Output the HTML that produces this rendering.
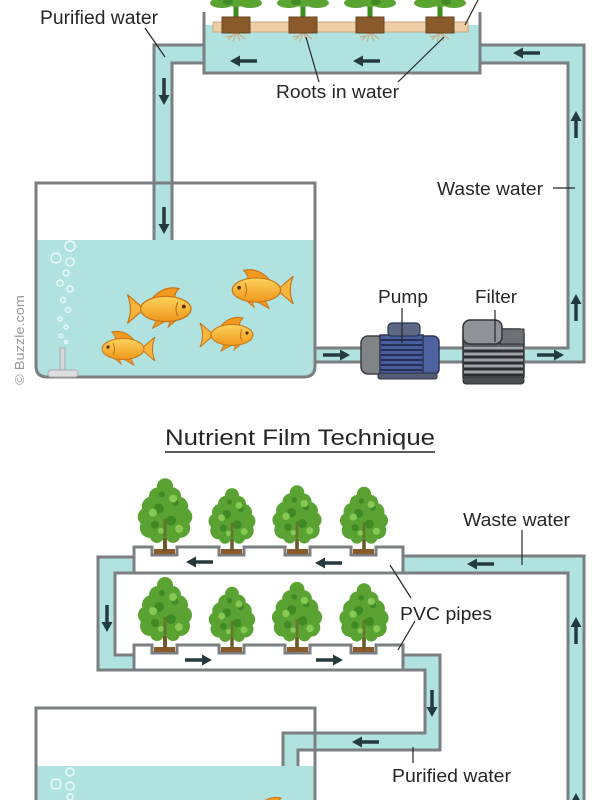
<!DOCTYPE html>
<html>
<head>
<meta charset="utf-8">
<style>
html,body{margin:0;padding:0;background:#fff;}
svg{display:block;}
text{font-family:"Liberation Sans",Arial,sans-serif;fill:#262626;}
</style>
</head>
<body>
<svg width="600" height="800" viewBox="0 0 600 800" xmlns="http://www.w3.org/2000/svg">
<defs>
  <g id="ar"><path d="M0,0H19" stroke="#253a3c" stroke-width="3.5"/><polygon points="27,0 17,-5.5 17,5.5" fill="#253a3c"/></g>
  <linearGradient id="fg" x1="0" y1="0" x2="0" y2="1">
    <stop offset="0" stop-color="#fcd45c"/>
    <stop offset="1" stop-color="#f0961c"/>
  </linearGradient>
  <g id="fish">
    <path d="M-14,0 L-28,-12 Q-23,0 -28,12 Z" fill="#f7b43c" stroke="#c87417" stroke-width="1"/>
    <path d="M-8,-8 Q2,-20 15,-17 Q10,-12 12,-7 Z" fill="#f39a1e" stroke="#c87417" stroke-width="1"/>
    <path d="M-3,8 L-7,16 L4,10 Z" fill="#f39a1e" stroke="#c87417" stroke-width="0.8"/>
    <path d="M8,9 L6,15 L13,9 Z" fill="#f39a1e" stroke="#c87417" stroke-width="0.8"/>
    <ellipse cx="4" cy="0" rx="21" ry="10.5" fill="url(#fg)" stroke="#c87417" stroke-width="1"/>
    <path d="M14,-6 Q11,0 14,6" stroke="#c87417" fill="none" stroke-width="1"/>
    <circle cx="19" cy="-2" r="1.6" fill="#5a2a00"/>
  </g>
  <g id="plant">
    <rect x="-2" y="-18" width="4" height="20" fill="#6b5a2a"/>
    <g fill="#5aa332">
      <circle cx="0" cy="-62" r="8"/>
      <circle cx="-7" cy="-52" r="9"/><circle cx="7" cy="-52" r="9"/>
      <circle cx="-13" cy="-42" r="10"/><circle cx="0" cy="-44" r="11"/><circle cx="13" cy="-42" r="10"/>
      <circle cx="-18" cy="-32" r="9"/><circle cx="18" cy="-32" r="9"/><circle cx="0" cy="-32" r="12"/>
      <circle cx="-9" cy="-34" r="10"/><circle cx="9" cy="-34" r="10"/>
      <circle cx="-15" cy="-21" r="10"/><circle cx="15" cy="-21" r="10"/><circle cx="0" cy="-22" r="11"/>
      <circle cx="-8" cy="-13" r="7"/><circle cx="8" cy="-13" r="7"/>
    </g>
    <g fill="#3f8a24">
      <circle cx="-6" cy="-40" r="5"/><circle cx="6" cy="-28" r="5"/><circle cx="-10" cy="-24" r="4"/>
      <circle cx="10" cy="-46" r="3.5"/><circle cx="-3" cy="-54" r="3"/>
    </g>
    <g fill="#86c955">
      <circle cx="8" cy="-50" r="4"/><circle cx="-12" cy="-36" r="4"/><circle cx="14" cy="-20" r="4"/><circle cx="-4" cy="-18" r="3"/>
    </g>
    <rect x="-1.5" y="-30" width="3" height="18" fill="#6b5a2a" opacity="0.6"/>
  </g>
</defs>

<!-- ============ TOP: DEEP WATER ============ -->
<!-- top plants (clipped) -->
<g>
  <g fill="#3f8d1e">
    <rect x="233.5" y="3" width="5" height="15"/>
    <rect x="300.5" y="3" width="5" height="15"/>
    <rect x="367.5" y="3" width="5" height="15"/>
    <rect x="437.5" y="3" width="5" height="15"/>
  </g>
  <g fill="#5aa532">
    <ellipse cx="222" cy="3" rx="12" ry="5"/><ellipse cx="250" cy="3" rx="12" ry="5"/><ellipse cx="236" cy="1" rx="10" ry="6"/>
    <ellipse cx="289" cy="3" rx="12" ry="5"/><ellipse cx="317" cy="3" rx="12" ry="5"/><ellipse cx="303" cy="1" rx="10" ry="6"/>
    <ellipse cx="356" cy="3" rx="12" ry="5"/><ellipse cx="384" cy="3" rx="12" ry="5"/><ellipse cx="370" cy="1" rx="10" ry="6"/>
    <ellipse cx="426" cy="3" rx="12" ry="5"/><ellipse cx="454" cy="3" rx="12" ry="5"/><ellipse cx="440" cy="1" rx="10" ry="6"/>
  </g>
  <g fill="#3f8a24">
    <ellipse cx="228" cy="2" rx="5" ry="3"/><ellipse cx="296" cy="2" rx="5" ry="3"/><ellipse cx="376" cy="2" rx="5" ry="3"/><ellipse cx="446" cy="2" rx="5" ry="3"/>
  </g>
</g>

<!-- bed water -->
<rect x="204" y="25" width="276" height="48" fill="#b0e2df"/>
<!-- left top pipe -->
<polygon points="204,45 154,45 154,240 172,240 172,63 204,63" fill="#b0e2df"/>
<path d="M204,45H154V240" fill="none" stroke="#7b7f82" stroke-width="3"/>
<path d="M204,63H172V240" fill="none" stroke="#7b7f82" stroke-width="3"/>
<!-- right top pipe -->
<polygon points="480,45 584,45 584,362 525,362 525,348 568,348 568,63 480,63" fill="#b0e2df"/>
<path d="M480,45H584V362H525" fill="none" stroke="#7b7f82" stroke-width="3"/>
<path d="M480,63H568V348H525" fill="none" stroke="#7b7f82" stroke-width="3"/>
<!-- pipe tank to pump, pump to filter -->
<rect x="315" y="348" width="48" height="14" fill="#b0e2df"/>
<path d="M315,348H363M315,362H363" stroke="#7b7f82" stroke-width="3"/>
<rect x="438" y="348" width="27" height="14" fill="#b0e2df"/>
<path d="M438,348H465M438,362H465" stroke="#7b7f82" stroke-width="3"/>

<!-- raft, pots, roots -->
<rect x="213" y="22" width="255" height="10" fill="#efcfa5" stroke="#c9a77f" stroke-width="1"/>
<g stroke="#c9ad86" stroke-width="1.2" fill="none">
  <path d="M236,32 L228,40 M236,32 L233,42 M236,32 L240,41 M236,32 L245,39 M232,36 L226,37"/>
  <path d="M303,32 L295,40 M303,32 L300,42 M303,32 L307,41 M303,32 L312,39 M299,36 L293,37"/>
  <path d="M370,32 L362,40 M370,32 L367,42 M370,32 L374,41 M370,32 L379,39 M366,36 L360,37"/>
  <path d="M440,32 L432,40 M440,32 L437,42 M440,32 L444,41 M440,32 L449,39 M436,36 L430,37"/>
</g>
<g fill="#8b5a2b" stroke="#6b4420" stroke-width="1">
  <rect x="222" y="17" width="28" height="16"/>
  <rect x="289" y="17" width="28" height="16"/>
  <rect x="356" y="17" width="28" height="16"/>
  <rect x="426" y="17" width="28" height="16"/>
</g>
<!-- bed walls -->
<path d="M204,12V73H480V12" fill="none" stroke="#7b7f82" stroke-width="3"/>

<!-- fish tank -->
<path d="M36,240V366Q36,377 47,377H304Q315,377 315,366V240Z" fill="#b0e2df"/>
<path d="M36,183V366Q36,377 47,377H304Q315,377 315,366V183Z" fill="none" stroke="#7b7f82" stroke-width="3"/>
<!-- bubbles -->
<g fill="none" stroke="#eefaf9" stroke-width="1.4">
  <circle cx="70" cy="246" r="5"/><circle cx="56" cy="258" r="5"/><circle cx="70" cy="262" r="4"/>
  <circle cx="66" cy="273" r="3"/><circle cx="60" cy="283" r="3"/><circle cx="70" cy="289" r="3"/>
  <circle cx="63" cy="300" r="2.5"/><circle cx="68" cy="310" r="2.5"/><circle cx="60" cy="319" r="2"/>
  <circle cx="66" cy="327" r="2"/><circle cx="61" cy="336" r="1.8"/><circle cx="66" cy="342" r="1.5"/>
</g>
<rect x="60" y="348" width="5" height="24" fill="#d4d6d8" stroke="#a9acaf" stroke-width="1"/>
<rect x="48" y="370" width="30" height="7" rx="3" fill="#dcdee0" stroke="#a9acaf" stroke-width="1"/>
<!-- fish -->
<use href="#fish" transform="translate(161,309) scale(1.2)"/>
<use href="#fish" transform="translate(261,290) scale(-1.15,1.15)"/>
<use href="#fish" transform="translate(228,335)"/>
<use href="#fish" transform="translate(127,349) scale(-1,1)"/>

<!-- pump -->
<rect x="361" y="336" width="24" height="38" rx="7" fill="#808387" stroke="#3d3f44" stroke-width="1.5"/>
<rect x="418" y="336" width="21" height="39" rx="6" fill="#4f62a0" stroke="#2c3555" stroke-width="1.5"/>
<rect x="380" y="335" width="43" height="41" fill="#4a5d9c" stroke="#2c3555" stroke-width="1.5"/>
<g stroke="#1f2a4d" stroke-width="1.8">
  <path d="M381,340H422M381,345H422M381,350H422M381,355H422M381,360H422M381,365H422M381,370H422"/>
</g>
<rect x="388" y="323" width="32" height="13" rx="4" fill="#5d6886" stroke="#2c3555" stroke-width="1.2"/>
<rect x="378" y="373" width="59" height="6" rx="2" fill="#555c74" stroke="#2c3040" stroke-width="1"/>
<!-- filter -->
<rect x="463" y="329" width="61" height="52" rx="5" fill="#5a5d61" stroke="#2f3134" stroke-width="1.5"/>
<g stroke="#a0a3a7" stroke-width="2.2">
  <path d="M464,348H523M464,354H523M464,360H523M464,366H523M464,372H523"/>
</g>
<g stroke="#26282a" stroke-width="1.8">
  <path d="M464,351H523M464,357H523M464,363H523M464,369H523M464,375H523"/>
</g>
<rect x="500" y="329" width="24" height="15" fill="#6d7074" stroke="#2f3134" stroke-width="1"/>
<rect x="463" y="320" width="39" height="24" rx="7" fill="#8f9296" stroke="#333" stroke-width="1.5"/>
<rect x="463" y="377" width="61" height="7" rx="3" fill="#4a4c50" stroke="#2f3134" stroke-width="1"/>

<!-- top arrows -->
<use href="#ar" transform="translate(257,61) rotate(180)"/>
<use href="#ar" transform="translate(380,61) rotate(180)"/>
<use href="#ar" transform="translate(540,53) rotate(180)"/>
<use href="#ar" transform="translate(164,78) rotate(90)"/>
<use href="#ar" transform="translate(164,207) rotate(90)"/>
<use href="#ar" transform="translate(576,138) rotate(-90)"/>
<use href="#ar" transform="translate(576,321) rotate(-90)"/>
<use href="#ar" transform="translate(323,355)"/>
<use href="#ar" transform="translate(537,355)"/>

<!-- top labels & leader lines -->
<g stroke="#262626" stroke-width="1.2" fill="none">
  <path d="M145,28L165,57"/>
  <path d="M319,82L306,37"/>
  <path d="M398,82L444,37"/>
  <path d="M465,25L478,0"/>
  <path d="M553,188H575"/>
  <path d="M402,308V343"/>
  <path d="M495,310V342"/>
</g>
<text x="40" y="24" font-size="19" textLength="118" lengthAdjust="spacingAndGlyphs">Purified water</text>
<text x="276" y="98" font-size="18" textLength="123" lengthAdjust="spacingAndGlyphs">Roots in water</text>
<text x="437" y="195" font-size="18" textLength="106" lengthAdjust="spacingAndGlyphs">Waste water</text>
<text x="378" y="303" font-size="18" textLength="50" lengthAdjust="spacingAndGlyphs">Pump</text>
<text x="475" y="303" font-size="18" textLength="42" lengthAdjust="spacingAndGlyphs">Filter</text>
<text transform="translate(24,385) rotate(-90)" font-size="13" textLength="90" lengthAdjust="spacingAndGlyphs" style="fill:#9a9a9a">© Buzzle.com</text>

<!-- ============ BOTTOM: NFT ============ -->
<text x="165" y="445" font-size="22" textLength="270" lengthAdjust="spacingAndGlyphs">Nutrient Film Technique</text>
<path d="M165,452H435" stroke="#262626" stroke-width="1.5"/>

<!-- blue pipes -->
<polygon points="403,556 584,556 584,800 568,800 568,573 403,573" fill="#b0e2df"/>
<path d="M403,556H584V800" fill="none" stroke="#7b7f82" stroke-width="3"/>
<path d="M403,573H568V800" fill="none" stroke="#7b7f82" stroke-width="3"/>

<polygon points="134,557 98,557 98,670 134,670 134,655 115,655 115,573 134,573" fill="#b0e2df"/>
<path d="M134,557H98V670H134" fill="none" stroke="#7b7f82" stroke-width="3"/>
<path d="M134,573H115V655H134" fill="none" stroke="#7b7f82" stroke-width="3"/>

<polygon points="403,655 440,655 440,750 298,750 298,766 283,766 283,733 425,733 425,670 403,670" fill="#b0e2df"/>
<path d="M403,655H440V750H298V766" fill="none" stroke="#7b7f82" stroke-width="3"/>
<path d="M403,670H425V733H283V766" fill="none" stroke="#7b7f82" stroke-width="3"/>

<!-- PVC pipes -->
<path d="M134,573V547H152V555H177V547H219V555H244V547H285V555H310V547H351V555H376V547H403V573Z" fill="#ffffff" stroke="#7b7f82" stroke-width="3"/>
<g fill="#8b5a2b">
  <rect x="154" y="549" width="21" height="5"/><rect x="221" y="549" width="21" height="5"/>
  <rect x="287" y="549" width="21" height="5"/><rect x="353" y="549" width="21" height="5"/>
</g>
<path d="M134,670V645H152V653H177V645H219V653H244V645H285V653H310V645H351V653H376V645H403V670Z" fill="#ffffff" stroke="#7b7f82" stroke-width="3"/>
<g fill="#8b5a2b">
  <rect x="154" y="647" width="21" height="5"/><rect x="221" y="647" width="21" height="5"/>
  <rect x="287" y="647" width="21" height="5"/><rect x="353" y="647" width="21" height="5"/>
</g>

<!-- plants -->
<use href="#plant" transform="translate(165,549) scale(1.01)"/>
<use href="#plant" transform="translate(232,549) scale(0.87)"/>
<use href="#plant" transform="translate(297,549) scale(0.91)"/>
<use href="#plant" transform="translate(364,549) scale(0.89)"/>
<use href="#plant" transform="translate(165,647) scale(1.0)"/>
<use href="#plant" transform="translate(232,647) scale(0.86)"/>
<use href="#plant" transform="translate(297,647) scale(0.93)"/>
<use href="#plant" transform="translate(364,647) scale(0.91)"/>

<!-- lower tank -->
<rect x="36" y="766" width="279" height="40" fill="#b0e2df"/>
<g fill="none" stroke="#eefaf9" stroke-width="1.4">
  <circle cx="70" cy="772" r="4"/><circle cx="56" cy="784" r="5"/><circle cx="70" cy="786" r="4"/><circle cx="70" cy="797" r="3"/>
</g>
<use href="#fish" transform="translate(266,815)"/>
<path d="M36,810V708H315V810" fill="none" stroke="#7b7f82" stroke-width="3"/>

<!-- bottom arrows -->
<use href="#ar" transform="translate(213,562) rotate(180)"/>
<use href="#ar" transform="translate(342,563) rotate(180)"/>
<use href="#ar" transform="translate(494,564) rotate(180)"/>
<use href="#ar" transform="translate(379,742) rotate(180)"/>
<use href="#ar" transform="translate(185,660)"/>
<use href="#ar" transform="translate(316,660)"/>
<use href="#ar" transform="translate(107,605) rotate(90)"/>
<use href="#ar" transform="translate(432,690) rotate(90)"/>
<use href="#ar" transform="translate(576,644) rotate(-90)"/>
<use href="#ar" transform="translate(576,820) rotate(-90)"/>

<!-- bottom labels -->
<g stroke="#262626" stroke-width="1.2" fill="none">
  <path d="M522,530V565"/>
  <path d="M390,565L411,598"/>
  <path d="M415,621L398,650"/>
  <path d="M413,747V763"/>
</g>
<text x="463" y="526" font-size="18" textLength="107" lengthAdjust="spacingAndGlyphs">Waste water</text>
<text x="400" y="620" font-size="18" textLength="92" lengthAdjust="spacingAndGlyphs">PVC pipes</text>
<text x="392" y="782" font-size="18" textLength="119" lengthAdjust="spacingAndGlyphs">Purified water</text>
</svg>
</body>
</html>
